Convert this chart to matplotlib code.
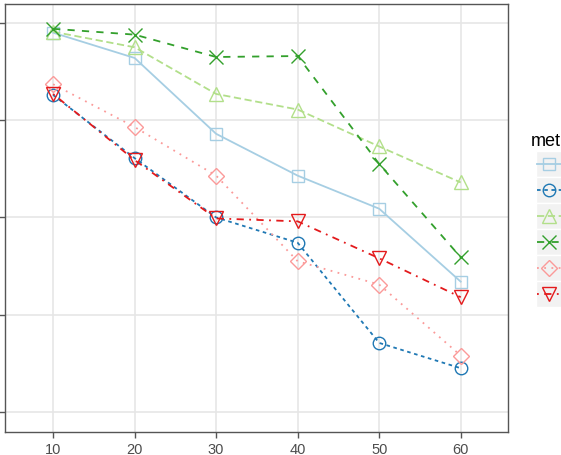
import matplotlib.pyplot as plt
from matplotlib.lines import Line2D
from matplotlib.patches import Rectangle

plt.rcParams['font.family'] = ['Liberation Sans', 'DejaVu Sans']

# x positions
sizes = [10, 20, 30, 40, 50, 60]

# one series per method
m1 = [0.890, 0.864, 0.786, 0.743, 0.709, 0.634]
m2 = [0.826, 0.761, 0.700, 0.674, 0.571, 0.545]
m3 = [0.891, 0.875, 0.827, 0.811, 0.773, 0.736]
m4 = [0.894, 0.888, 0.865, 0.866, 0.755, 0.659]
m5 = [0.837, 0.793, 0.743, 0.655, 0.631, 0.558]
m6 = [0.827, 0.759, 0.699, 0.696, 0.658, 0.618]

series = [m1, m2, m3, m4, m5, m6]
colors = ['#A6CEE3', '#1F78B4', '#B2DF8A', '#33A02C', '#FB9A99', '#E31A1C']
markers = ['s', 'o', '^', 'x', 'D', 'v']
msizes = [9, 9, 10, 10, 8, 10]
styles = ['-', (0, (2, 2)), (0, (4, 2)), (0, (4, 4)), (0, (1, 3)), (0, (1, 3, 4, 3))]

W, H = 561, 456
fig = plt.figure(figsize=(W / 100, H / 100), dpi=100)
ax = fig.add_axes([5 / W, (H - 433) / H, (508 - 5) / W, (433 - 5) / H])

for ys, c, mk, ms, ls in zip(series, colors, markers, msizes, styles):
    ax.plot(sizes, ys, color=c, linestyle=ls, linewidth=1.3, marker=mk,
            markersize=ms, markerfacecolor='none', markeredgecolor=c,
            markeredgewidth=1.0, zorder=3)

ax.set_xlim(4.1, 65.8)
ax.set_ylim(0.4794, 0.9195)
ax.set_xticks(sizes)
ax.set_yticks([0.5, 0.6, 0.7, 0.8, 0.9])
ax.set_yticklabels([])
ax.grid(True, color='#E6E6E6', linewidth=1.2, zorder=0)
ax.set_axisbelow(True)
for s in ax.spines.values():
    s.set_color('#555555')
    s.set_linewidth(1.0)
ax.tick_params(axis='both', color='#555555', length=4, width=1.0,
               labelsize=10.5, labelcolor='#4D4D4D', pad=3)

# legend (cut off by the right edge, as in the reference)
fig.text(531 / W, 1 - 141 / H, 'method', fontsize=13, va='center', ha='left')
key = 26
for i, (c, mk, ms, ls) in enumerate(zip(colors, markers, msizes, styles)):
    top = 152 + i * key
    fig.add_artist(Rectangle((536 / W, 1 - (top + key) / H), key / W, key / H,
                             transform=fig.transFigure, facecolor='#F2F2F2',
                             edgecolor='white', linewidth=1.0))
    yc = 1 - (top + key / 2) / H
    fig.add_artist(Line2D([537 / W, 561 / W], [yc, yc], transform=fig.transFigure,
                          color=c, linestyle=ls, linewidth=1.3))
    fig.add_artist(Line2D([549 / W], [yc], transform=fig.transFigure, color=c,
                          marker=mk, markersize=ms, markerfacecolor='none',
                          markeredgewidth=1.0, linestyle='none'))

fig.savefig('out.png', dpi=100)
